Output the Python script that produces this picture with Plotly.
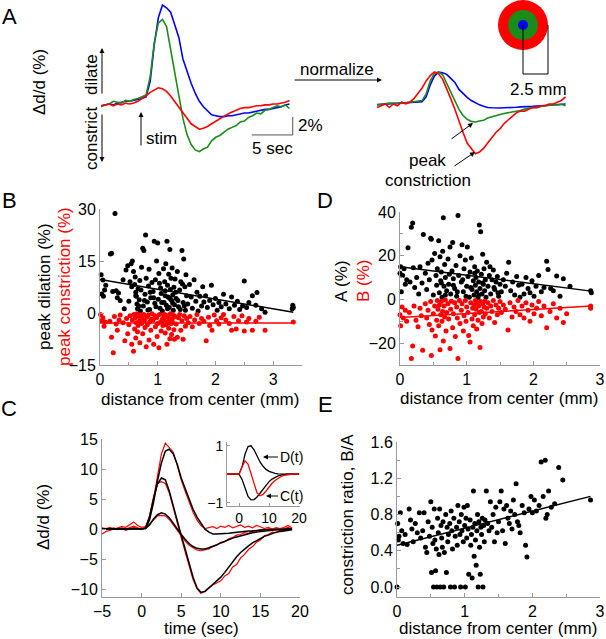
import numpy as np
import plotly.graph_objects as go

W, H = 606, 639
FONT = "Liberation Sans, Arial, sans-serif"
RED, GREEN, BLUE = "#ff0000", "#1a8c1a", "#0000ff"
AXC = "#9a9a9a"


def fx(p):
    return p / W


def fy(p):
    return 1 - p / H


# ---- A: raw responses (%), every 0.5 s from -5 to 18 s
a_time = np.arange(-5, 18.01, 0.5)
a_blue = [-0.2, -0.1, 0.0, -0.1, 0.1, 0.2, 0.3, 0.3, 0.4, 0.5,
          0.6, 0.8, 2.5, 6.6, 9.6, 11.0, 10.7, 10.2, 8.8, 7.4,
          5.0, 3.6, 2.3, 1.2, 0.3, -0.3, -0.8, -1.2, -1.3, -1.4,
          -1.4, -1.3, -1.3, -1.2, -1.1, -1.0, -1.0, -0.9, -0.8, -0.7,
          -0.6, -0.6, -0.5, -0.4, -0.3, -0.1, 0.0]
a_green = [-0.3, -0.1, 0.0, 0.3, 0.2, 0.1, 0.4, 0.3, 0.5, 0.6,
           0.8, 1.0, 3.0, 6.8, 9.0, 9.4, 8.6, 6.0, 3.5, 0.9,
           -1.6, -3.4, -4.5, -5.1, -5.3, -5.0, -4.8, -4.1, -3.7, -3.5,
           -3.1, -2.8, -2.6, -2.4, -2.0, -1.9, -1.5, -1.3, -1.0, -1.1,
           -0.7, -0.6, -0.4, -0.2, -0.3, -0.1, -0.5]
a_red = [-0.2, -0.1, 0.0, -0.2, 0.0, -0.1, 0.1, 0.0, 0.1, 0.3,
         0.6, 0.9, 1.3, 1.6, 1.8, 1.7, 1.4, 0.9, 0.3, -0.3,
         -1.0, -1.6, -2.2, -2.5, -2.8, -2.7, -2.5, -2.2, -1.9, -1.6,
         -1.4, -1.1, -0.9, -0.7, -0.5, -0.4, -0.4, -0.3, -0.2, -0.2,
         -0.1, -0.1, 0.0, 0.0, 0.1, 0.2, 0.4]

# ---- B: peak dilation / constriction vs distance
b_dil_x = [0.02, 0.03, 0.05, 0.06, 0.08, 0.10,
           0.18, 0.20, 0.22, 0.26, 0.28, 0.30, 0.32, 0.35,
           0.40, 0.42, 0.45, 0.48, 0.50, 0.52, 0.54, 0.55,
           0.56, 0.58, 0.60, 0.61, 0.62, 0.63, 0.64, 0.65, 0.66, 0.68, 0.69, 0.70,
           0.72, 0.74, 0.75, 0.76, 0.78, 0.79, 0.80, 0.82, 0.84, 0.85, 0.86, 0.88, 0.90,
           0.92, 0.94, 0.95, 0.96, 0.98, 1.00, 1.01, 1.02, 1.04, 1.05, 1.06, 1.08, 1.10,
           1.11, 1.12, 1.13, 1.14, 1.15, 1.16, 1.17, 1.18, 1.19, 1.20,
           1.21, 1.22, 1.23, 1.24, 1.25, 1.26, 1.27, 1.28, 1.29, 1.30,
           1.32, 1.34, 1.36, 1.38, 1.40, 1.42, 1.44, 1.45, 1.47, 1.48, 1.50,
           1.52, 1.55, 1.58, 1.60, 1.63, 1.66, 1.68, 1.70, 1.73, 1.76, 1.78, 1.80,
           1.83, 1.86, 1.90, 1.93, 1.96, 2.00, 2.03, 2.06, 2.10, 2.14, 2.18,
           2.24, 2.28, 2.33, 2.38, 2.42, 2.47, 2.50, 2.54, 2.58,
           2.64, 2.70, 2.72, 2.80, 2.86, 3.33, 3.34, 3.35,
           0.62, 0.67, 0.71, 0.77, 0.83, 0.87, 0.93, 0.97, 1.03, 1.07,
           1.13, 1.17, 1.21, 1.26, 1.31, 1.35, 1.39, 1.43, 1.46, 1.49]
b_dil_y = [11.0, 5.5, 9.5, 4.8, 6.6, 8.0,
           17.0, 17.2, 6.2, 28.7, 6.4, 4.4, 5.8, 3.6,
           9.6, 1.2, 12.4, 13.6, 3.4, 9.0, 14.2, 7.6,
           15.0, 12.0, 8.2, 10.4, 6.0, 4.8, 2.6, 1.2, 7.0, 3.8, 9.4, 0.6,
           13.2, 18.7, 2.0, 18.0, 5.4, 22.5, 10.0, 3.2, 7.8, 12.6, 1.0, 4.4, 8.8,
           6.2, 20.7, 2.8, 9.6, 15.0, 20.2, 4.0, 11.4, 1.4, 7.2, 5.6, 0.6, 12.8,
           3.0, 9.0, 6.4, 14.2, 2.2, 20.7, 8.0, 4.6, 11.2, 1.6,
           18.3, 6.8, 10.0, 3.6, 13.0, 5.2, 0.8, 7.4, 2.4, 9.8,
           4.2, 12.0, 1.8, 6.6, 9.0, 18.0, 3.0, 15.6, 7.6, 0.8, 5.0,
           2.6, 8.2, 4.6, 1.4, 9.6, 3.4, 6.0, 0.6, 4.8, 2.0, 7.6, 3.2,
           5.0, 1.6, 3.6, 8.0, 2.4, 4.2, 0.8, 3.0, 1.8, 5.4, 2.6,
           1.2, 4.6, 2.2, 3.4, 1.0, 2.0, 9.2, 1.6, 3.0,
           5.0, 2.2, 5.9, 1.2, 0.2, 1.2, 2.2, 1.6,
           5.0, 2.0, 6.6, 3.6, 0.9, 6.0, 4.4, 1.8, 8.6, 3.0,
           5.0, 1.2, 4.2, 2.8, 6.0, 3.6, 1.0, 8.4, 2.0, 11.0]
b_con_x = [0.01, 0.03, 0.05, 0.07, 0.09,
           0.17, 0.20, 0.23, 0.25, 0.28, 0.30, 0.33, 0.35,
           0.40, 0.43, 0.46, 0.48, 0.50, 0.52, 0.55,
           0.56, 0.58, 0.59, 0.60, 0.61, 0.62, 0.63, 0.64, 0.65, 0.66, 0.67, 0.68, 0.69, 0.70,
           0.72, 0.73, 0.74, 0.76, 0.77, 0.78, 0.80, 0.81, 0.82, 0.84, 0.85, 0.86, 0.88, 0.89, 0.90,
           0.92, 0.93, 0.95, 0.96, 0.98, 0.99, 1.00, 1.02, 1.03, 1.05, 1.06, 1.08, 1.09, 1.10,
           1.11, 1.12, 1.13, 1.14, 1.15, 1.16, 1.17, 1.18, 1.19, 1.20,
           1.21, 1.22, 1.23, 1.24, 1.25, 1.26, 1.27, 1.28, 1.29, 1.30,
           1.32, 1.34, 1.36, 1.38, 1.40, 1.42, 1.44, 1.46, 1.48, 1.50,
           1.53, 1.56, 1.60, 1.64, 1.68, 1.72, 1.76, 1.80,
           1.84, 1.88, 1.90, 1.94, 1.98, 2.02, 2.06, 2.10, 2.14, 2.18,
           2.24, 2.28, 2.32, 2.36, 2.40, 2.46, 2.50, 2.54, 2.58,
           2.64, 2.70, 2.76, 2.86, 3.35]
b_con_y = [-0.4, -2.2, -1.4, -3.8, -2.6,
           -2.4, -7.0, -11.5, -1.0, -3.2, -5.0, -2.0, -0.6,
           -2.8, -8.0, -1.6, -6.0, -3.4, -0.8, -9.0,
           -2.0, -11.0, -0.4, -4.6, -1.4, -7.2, -2.8, -0.2, -5.4, -3.6, -1.0, -2.4, -8.6, -0.6,
           -3.0, -1.6, -6.0, -0.4, -2.2, -4.2, -9.7, -1.2, -3.4, -0.6, -7.8, -2.6, -5.0, -1.8, -0.2,
           -2.0, -9.0, -0.8, -4.0, -1.4, -6.8, -3.0, -10.0, -0.4, -2.6, -5.2, -1.8, -3.6, -0.6,
           -2.2, -0.4, -5.8, -1.2, -3.4, -9.0, -0.8, -2.6, -4.4, -1.6,
           -7.4, -0.2, -3.0, -6.2, -1.8, -2.8, -0.6, -4.8, -7.6, -1.0,
           -3.2, -7.0, -1.4, -0.4, -5.0, -2.2, -7.6, -0.8, -3.8, -1.6,
           -2.8, -1.0, -4.0, -2.0, -0.4, -3.0, -1.6, -2.4,
           -8.0, -1.2, -3.6, -5.0, -0.6, -2.2, -3.2, -1.4, -0.4, -2.0,
           -3.0, -5.0, -1.0, -4.6, -2.2, -0.8, -5.2, -2.6, -1.6,
           -5.0, -2.4, -1.2, -5.0, -2.6]
b_fit_x = [0.0, 3.35]
b_fit_dil = [9.7, 0.2]
b_fit_con = [-2.9, -2.9]

# ---- D: A and B amplitudes vs distance
d_a_x = [0.00, 0.01, 0.02, 0.04, 0.06, 0.08, 0.10,
         0.12, 0.15, 0.17, 0.19, 0.20, 0.22, 0.25, 0.28, 0.30, 0.33, 0.35,
         0.38, 0.40, 0.42, 0.44, 0.46, 0.47, 0.48, 0.50, 0.52, 0.54, 0.55,
         0.56, 0.58, 0.59, 0.60, 0.61, 0.62, 0.63, 0.64, 0.65, 0.66, 0.67, 0.68, 0.70,
         0.72, 0.73, 0.75, 0.76, 0.78, 0.79, 0.80, 0.82, 0.84, 0.85, 0.87, 0.88, 0.90,
         0.92, 0.93, 0.95, 0.96, 0.98, 1.00, 1.01, 1.02, 1.04, 1.05, 1.07, 1.08, 1.10,
         1.11, 1.12, 1.13, 1.14, 1.15, 1.16, 1.17, 1.18, 1.19, 1.20,
         1.21, 1.22, 1.23, 1.24, 1.25, 1.26, 1.27, 1.28, 1.30,
         1.32, 1.34, 1.36, 1.38, 1.40, 1.42, 1.44, 1.46, 1.48, 1.50,
         1.52, 1.55, 1.58, 1.60, 1.63, 1.66, 1.69, 1.72, 1.75, 1.78, 1.80,
         1.83, 1.86, 1.89, 1.92, 1.95, 1.98, 2.01, 2.04, 2.08, 2.12, 2.16, 2.20,
         2.22, 2.26, 2.30, 2.35, 2.40, 2.45, 2.55, 2.86, 2.87,
         0.62, 0.68, 0.74, 0.80, 0.86, 0.94, 0.99, 1.06, 1.12, 1.18, 1.24, 1.29, 1.35, 1.41, 1.47]
d_a_y = [12.0, 15.0, 3.5, 11.0, 14.0, 7.0, 9.0,
         23.7, 8.0, 33.0, 35.0, 14.5, 5.5, 10.0, 2.5, 15.0, 7.5, 29.7,
         12.0, 4.5, 16.5, 9.0, 28.0, 27.5, 18.0, 2.0, 21.0, 11.0, 6.5,
         14.0, 26.8, 3.0, 19.5, 8.5, 12.5, 1.0, 22.0, 37.4, 6.0, 16.0, 10.0, 4.0,
         18.5, 7.0, 24.0, 2.5, 13.0, 26.0, 9.5, 5.0, 15.5, 1.5, 38.4, 11.0, 20.0,
         8.0, 25.0, 3.5, 14.0, 18.0, 6.0, 24.0, 10.5, 1.0, 12.5, 19.0, 4.5, 8.5,
         2.0, 15.0, 6.5, 10.0, 3.5, 13.0, 0.8, 8.0, 34.0, 5.0,
         31.0, 11.5, 2.5, 20.7, 7.0, 14.0, 4.0, 9.0, 17.0,
         6.0, 11.0, 2.5, 9.0, 13.5, 4.5, 8.0, 10.5, 1.5, 7.0,
         3.5, 9.0, 6.0, 12.0, 17.0, 4.0, 8.0, 2.0, 10.5, 6.5, 1.0,
         7.0, 2.5, 10.0, 5.0, 3.0, 8.5, 1.5, 6.0, 11.0, 3.5, 5.5, 17.5,
         13.7, 5.0, 4.0, 10.7, 1.4, 9.5, 6.0, 4.0, 3.0,
         7.5, 2.0, 11.5, 6.5, 3.5, 9.0, 1.5, 5.5, 12.0, 2.0, 7.5, 1.0, 15.0, 5.5, 3.0]
d_b_x = [0.00, 0.01, 0.03, 0.05, 0.08, 0.10,
         0.14, 0.17, 0.19, 0.21, 0.24, 0.27, 0.30, 0.32, 0.34,
         0.38, 0.40, 0.42, 0.44, 0.46, 0.47, 0.48, 0.50, 0.52, 0.53, 0.55,
         0.56, 0.57, 0.58, 0.59, 0.60, 0.61, 0.62, 0.63, 0.64, 0.65, 0.66, 0.67, 0.68, 0.69, 0.70,
         0.72, 0.73, 0.75, 0.76, 0.77, 0.79, 0.80, 0.82, 0.83, 0.85, 0.86, 0.87, 0.89, 0.90,
         0.92, 0.93, 0.95, 0.96, 0.98, 0.99, 1.00, 1.02, 1.03, 1.05, 1.06, 1.08, 1.09, 1.10,
         1.11, 1.12, 1.13, 1.14, 1.15, 1.16, 1.17, 1.18, 1.19, 1.20,
         1.21, 1.22, 1.23, 1.24, 1.25, 1.26, 1.27, 1.28, 1.30,
         1.32, 1.34, 1.36, 1.38, 1.40, 1.42, 1.44, 1.46, 1.48, 1.50,
         1.52, 1.55, 1.58, 1.62, 1.65, 1.68, 1.71, 1.74, 1.77, 1.80,
         1.83, 1.86, 1.89, 1.92, 1.95, 1.98, 2.01, 2.05, 2.08, 2.12, 2.16, 2.20,
         2.25, 2.30, 2.35, 2.40, 2.45, 2.50, 2.86, 2.86]
d_b_y = [-7.0, -12.0, -3.5, -8.5, -5.0, -10.0,
         -6.0, -27.0, -21.3, -3.0, -9.5, -12.5, -4.0, -7.5, -23.3,
         -2.0, -8.5, -5.0, -11.5, -1.0, -25.6, -14.0, -6.5, -3.0, -16.7, -9.5,
         -0.5, -4.5, -12.0, -2.5, -23.0, -7.0, -1.0, -10.0, -5.5, -19.0, -3.0, -8.0, -0.3, -14.5, -6.0,
         -2.0, -9.0, -22.5, -4.5, -0.8, -13.0, -6.5, -1.5, -17.0, -3.5, -8.5, -27.0, -0.5, -11.0,
         -5.0, -2.0, -14.5, -7.5, -0.5, -10.0, -3.5, -6.0, -16.5, -19.5, -1.5, -9.0, -4.0, -12.0,
         -2.5, -7.0, -0.5, -4.5, -13.5, -1.5, -9.5, -3.0, -6.0, -22.0,
         -1.0, -5.5, -11.0, -2.0, -8.0, -3.5, -0.8, -6.5, -4.0,
         -1.5, -8.5, -3.0, -5.5, -0.5, -10.5, -2.5, -7.0, -4.0, -1.0,
         -6.0, -2.5, -4.5, -14.0, -1.5, -8.0, -3.5, -5.5, -0.5, -7.0,
         -3.0, -8.5, -1.5, -5.0, -10.0, -2.5, -6.5, -4.0, -1.0, -7.5, -3.0, -13.0,
         -5.5, -2.0, -8.5, -4.0, -10.5, -6.5, -3.0, -4.0]
d_fit_x = [0.0, 2.87]
d_fit_a = [14.9, 3.8]
d_fit_b = [-8.3, -3.0]

# ---- C: example responses (red) and fits (black), every 0.5 s from -5 to 19 s
c_time = np.arange(-5, 19.01, 0.5)
c_data1 = [0.2, 0.1, 0.3, 0.0, 0.2, 0.4, 0.3, 0.8, 1.2, 0.6, 0.3,
           0.4, 1.8, 5.0, 9.0, 12.5, 14.3, 13.6, 12.8, 10.6, 8.2,
           6.3, 4.4, 2.8, 1.5, 0.6, 0.1, 0.2, 0.4, 0.1, 0.5,
           0.3, 0.6, 0.2, 0.4, 0.7, 0.3, 0.5, 0.2, 0.6, 0.4,
           0.1, 0.3, 0.0, 0.2, 0.1, 0.3, 0.6, 0.2]
c_data2 = [-0.8, -0.4, -0.2, 0.1, -0.1, 0.2, 0.0, 0.3, 0.5, 0.2, 0.0,
           0.3, 2.2, 5.3, 7.6, 7.9, 7.6, 6.0, 3.4, 1.0, -1.4,
           -3.8, -6.3, -8.4, -9.9, -10.7, -10.3, -9.7, -9.3, -8.9, -8.6,
           -7.8, -7.4, -6.3, -5.9, -4.8, -4.2, -3.4, -2.9, -2.2, -1.8,
           -1.1, -0.9, -0.5, -0.6, -0.2, -0.3, 0.2, -0.1]
c_data3 = [0.1, -0.1, 0.0, 0.2, -0.1, 0.1, -0.2, 0.1, 0.3, 0.1, -0.1,
           0.2, 0.8, 1.5, 2.2, 2.3, 2.2, 1.6, 0.7, -0.2, -1.2,
           -2.0, -2.7, -3.1, -3.5, -3.6, -3.4, -3.3, -2.9, -2.7, -2.2,
           -2.1, -1.6, -1.4, -1.0, -0.9, -0.6, -0.7, -0.3, -0.4, -0.1,
           -0.2, 0.1, 0.0, 0.2, 0.0, 0.1, 0.3, 0.0]
c_fit1 = [0, 0, 0, 0, 0, 0, 0, 0, 0, 0, 0,
          0.1, 1.5, 4.4, 8.0, 11.0, 13.0, 13.3, 12.5, 10.8, 8.5,
          6.8, 5.0, 3.3, 2.0, 0.9, 0.0, -0.5, -0.8, -0.8, -0.8,
          -0.8, -0.7, -0.6, -0.5, -0.5, -0.4, -0.3, -0.3, -0.2, -0.2,
          -0.1, -0.1, -0.1, 0, 0, 0, 0, 0]
c_fit2 = [0, 0, 0, 0, 0, 0, 0, 0, 0, 0, 0,
          0.2, 2.0, 5.0, 7.5, 8.5, 8.2, 6.3, 3.8, 1.2, -1.0,
          -3.3, -5.8, -8.0, -9.8, -10.5, -10.4, -9.8, -9.2, -8.6, -8.0,
          -7.2, -6.3, -5.4, -4.6, -3.9, -3.3, -2.8, -2.3, -1.9, -1.5,
          -1.2, -1.0, -0.7, -0.5, -0.4, -0.3, -0.2, -0.1]
c_fit3 = [0, 0, 0, 0, 0, 0, 0, 0, 0, 0, 0,
          0.1, 0.7, 1.7, 2.4, 2.7, 2.5, 1.9, 1.0, 0.0, -0.9,
          -1.7, -2.4, -2.9, -3.2, -3.3, -3.3, -3.1, -2.9, -2.6, -2.3,
          -2.0, -1.8, -1.5, -1.3, -1.1, -0.9, -0.8, -0.6, -0.5, -0.4,
          -0.3, -0.2, -0.2, -0.1, -0.1, 0, 0, 0]

# inset: basis functions, every 1 s from -4 to 20 s
k_time = np.arange(-4, 20.01, 1)
k_dil = [0, 0, 0, 0, 0, 0.25, 0.7, 0.97, 1.0, 0.86, 0.63, 0.43, 0.28,
         0.17, 0.1, 0.06, 0.03, 0.015, 0.005, 0, 0, 0, 0, 0, 0]
k_con = [0, 0, 0, 0, 0, -0.18, -0.52, -0.78, -0.9, -0.89, -0.8, -0.66, -0.51,
         -0.37, -0.26, -0.17, -0.11, -0.06, -0.03, -0.01, 0, 0, 0, 0, 0]
k_sum = [0, 0, 0, 0, 0, 0.25, 0.47, 0.36, 0.02, -0.38, -0.66, -0.76, -0.71,
         -0.59, -0.45, -0.32, -0.22, -0.14, -0.08, -0.04, -0.02, -0.01, 0, 0, 0]

# ---- E: constriction ratio B/A vs distance
e_x = [0.00, 0.01, 0.02, 0.03, 0.05, 0.07, 0.09,
       0.12, 0.15, 0.18, 0.20, 0.22, 0.24, 0.27, 0.30, 0.33, 0.35,
       0.38, 0.40, 0.42, 0.44, 0.46, 0.48, 0.50, 0.51, 0.52, 0.53, 0.54, 0.55,
       0.56, 0.57, 0.58, 0.59, 0.60, 0.61, 0.62, 0.63, 0.64, 0.65, 0.66, 0.67, 0.68, 0.69, 0.70,
       0.72, 0.73, 0.74, 0.75, 0.76, 0.78, 0.79, 0.80, 0.81, 0.82, 0.84, 0.85, 0.86, 0.88, 0.89, 0.90,
       0.92, 0.93, 0.94, 0.95, 0.96, 0.98, 0.99, 1.00, 1.01, 1.02, 1.03, 1.04, 1.05, 1.06, 1.08, 1.09, 1.10,
       1.11, 1.12, 1.13, 1.14, 1.15, 1.16, 1.17, 1.18, 1.19, 1.20,
       1.21, 1.22, 1.23, 1.24, 1.25, 1.26, 1.27, 1.28, 1.29, 1.30,
       1.32, 1.34, 1.36, 1.38, 1.40, 1.42, 1.44, 1.46, 1.48, 1.50,
       1.52, 1.54, 1.56, 1.58, 1.60, 1.62, 1.64, 1.66, 1.68, 1.70, 1.72, 1.74, 1.76, 1.78, 1.80,
       1.82, 1.85, 1.88, 1.90, 1.92, 1.95, 1.98, 2.00, 2.03, 2.06, 2.10, 2.13, 2.16, 2.19,
       2.20, 2.22, 2.24, 2.28, 2.33, 2.39, 2.45, 2.86]
e_y = [0.00, 0.70, 0.52, 0.56, 0.82, 0.62, 0.48,
       0.58, 0.47, 0.86, 0.74, 0.64, 0.50, 0.70, 0.60, 0.82, 0.54,
       0.62, 0.82, 0.44, 0.38, 0.72, 0.56, 0.94, 0.16, 0.66, 0.48, 0.00, 0.86,
       0.52, 0.18, 0.42, 0.00, 0.76, 0.60, 0.36, 0.86, 0.00, 0.68, 0.54, 0.44, 0.72, 0.00, 0.38,
       0.80, 0.16, 0.66, 0.50, 0.58, 0.70, 0.00, 0.84, 0.62, 0.42, 0.76, 0.00, 0.56, 0.66, 0.46, 0.90,
       0.72, 0.58, 0.00, 0.80, 0.62, 0.50, 0.88, 0.68, 0.00, 0.76, 0.54, 0.90, 0.64, 0.14, 0.74, 0.46, 0.58,
       0.10, 0.66, 1.06, 0.34, 0.70, 0.52, 0.24, 0.62, 0.80, 0.00,
       0.72, 0.44, 0.14, 0.66, 0.58, 0.76, 0.00, 0.68, 0.50, 0.74,
       1.06, 0.70, 0.62, 0.94, 0.66, 0.80, 0.50, 0.88, 0.60, 0.72,
       0.94, 1.06, 0.62, 0.86, 0.48, 0.90, 0.76, 0.70, 0.84, 0.64, 0.96, 0.80, 1.14, 0.72, 0.68,
       0.60, 0.90, 0.82, 0.46, 0.33, 0.86, 1.00, 0.82, 0.96, 0.84, 0.90, 1.38, 1.00, 1.40,
       0.76, 0.80, 1.06, 0.88, 0.92, 1.32, 1.18, 0.96]
e_fit_x = [0.0, 2.86]
e_fit_y = [0.46, 1.0]

fig = go.Figure()


def line(x, y, color, width, xa, ya):
    fig.add_trace(go.Scatter(x=x, y=y, mode="lines", line=dict(color=color, width=width),
                             xaxis=xa, yaxis=ya, cliponaxis=False, hoverinfo="skip"))


def dots(x, y, color, xa, ya):
    fig.add_trace(go.Scatter(x=x, y=y, mode="markers", marker=dict(color=color, size=5),
                             xaxis=xa, yaxis=ya, cliponaxis=False, hoverinfo="skip"))


# A, raw and normalized
for ys, col in [(a_blue, BLUE), (a_green, GREEN), (a_red, RED)]:
    line(a_time, ys, col, 1.6, "x", "y")
for ys, col in [(a_blue, BLUE), (a_green, GREEN), (a_red, RED)]:
    arr = np.array(ys)
    line(a_time, arr / arr.max(), col, 1.6, "x2", "y2")

# B
dots(b_dil_x, b_dil_y, "black", "x3", "y3")
dots(b_con_x, b_con_y, RED, "x3", "y3")
line(b_fit_x, b_fit_dil, "black", 1.5, "x3", "y3")
line(b_fit_x, b_fit_con, RED, 1.5, "x3", "y3")

# D
dots(d_a_x, d_a_y, "black", "x4", "y4")
dots(d_b_x, d_b_y, RED, "x4", "y4")
line(d_fit_x, d_fit_a, "black", 1.5, "x4", "y4")
line(d_fit_x, d_fit_b, RED, 1.5, "x4", "y4")

# C
for ys in [c_data1, c_data2, c_data3]:
    line(c_time, ys, RED, 1.2, "x5", "y5")
for ys in [c_fit1, c_fit2, c_fit3]:
    line(c_time, ys, "black", 1.5, "x5", "y5")
line(k_time, k_dil, "black", 1.3, "x6", "y6")
line(k_time, k_con, "black", 1.3, "x6", "y6")
line(k_time, k_sum, RED, 1.3, "x6", "y6")

# E
dots(e_x, e_y, "black", "x7", "y7")
line(e_fit_x, e_fit_y, "black", 1.5, "x7", "y7")


def axis(**kw):
    d = dict(showline=True, linecolor=AXC, linewidth=1, ticks="inside", ticklen=4,
             tickcolor=AXC, showgrid=False, zeroline=False, automargin=False,
             tickfont=dict(size=16, color="black", family=FONT))
    d.update(kw)
    return d


def hidden(**kw):
    d = dict(visible=False, automargin=False)
    d.update(kw)
    return d


def minor(step):
    return dict(dtick=step, tick0=0, ticks="inside", ticklen=3, tickcolor=AXC)


def txt(x, y, s, size=17, color="black", angle=0, xanchor="center"):
    return dict(x=fx(x), y=fy(y), xref="paper", yref="paper", text=s, showarrow=False,
                font=dict(size=size, color=color, family=FONT), textangle=angle,
                xanchor=xanchor, yanchor="middle")


def arrow(hx, hy, tx, ty, s="", size=14):
    return dict(x=fx(hx), y=fy(hy), xref="paper", yref="paper", ax=tx - hx, ay=ty - hy,
                axref="pixel", ayref="pixel", text=s, showarrow=True, arrowhead=2,
                arrowsize=1, arrowwidth=1, arrowcolor="black",
                font=dict(size=size, color="black", family=FONT))


annotations = [
    txt(10, 16, "A", 22), txt(9, 200, "B", 22), txt(325, 200, "D", 22),
    txt(9, 408, "C", 22), txt(325, 404, "E", 22),
    txt(40, 82, "Δd/d (%)", angle=-90),
    txt(91, 75, "dilate", angle=-90), txt(91, 138, "constrict", angle=-90),
    txt(144, 138, "stim", xanchor="left"),
    txt(296, 126, "2%", xanchor="left"), txt(272, 148, "5 sec"),
    txt(337, 69, "normalize"), txt(538, 89, "2.5 mm"),
    txt(427, 160, "peak"), txt(428, 180, "constriction"),
    arrow(102, 48, 102, 95), arrow(102, 162, 102, 113),
    arrow(141, 112, 141, 147), arrow(382, 80, 293, 80),
    arrow(473, 123, 450, 140), arrow(475, 152, 453, 167),
    txt(44, 287, "peak dilation (%)", angle=-90),
    txt(64, 287, "peak constriction (%)", color=RED, angle=-90),
    txt(200, 399, "distance from center (mm)"),
    txt(341, 281, "A (%)", angle=-90),
    txt(363, 281, "B (%)", color=RED, angle=-90),
    txt(499, 398, "distance from center (mm)"),
    txt(43, 517, "Δd/d (%)", angle=-90), txt(201, 628, "time (sec)"),
    arrow(263, 457, 291, 457, "D(t)"), arrow(266, 496, 291, 496, "C(t)"),
    txt(347, 515, "constriction ratio, B/A", angle=-90),
    txt(498, 628, "distance from center (mm)"),
]

shapes = [
    dict(type="line", xref="x", yref="y", x0=18.4, x1=18.4, y0=-1.44, y1=-3.44,
         line=dict(color="#555555", width=1)),
    dict(type="line", xref="x", yref="y", x0=13.4, x1=18.4, y0=-3.44, y1=-3.44,
         line=dict(color="#555555", width=1)),
]
for r, col in [(25, RED), (15, GREEN), (5, BLUE)]:
    shapes.append(dict(type="circle", xref="paper", yref="paper",
                       x0=fx(523 - r), x1=fx(523 + r), y0=fy(25 + r), y1=fy(25 - r),
                       fillcolor=col, line=dict(width=0)))
shapes.append(dict(type="path", xref="paper", yref="paper",
                   path=f"M {fx(523)} {fy(25)} L {fx(523)} {fy(74)} L {fx(548)} {fy(74)} L {fx(548)} {fy(25)}",
                   line=dict(color="black", width=1)))

fig.update_layout(
    width=W, height=H, margin=dict(l=0, r=0, t=0, b=0, pad=0, autoexpand=False),
    paper_bgcolor="white", plot_bgcolor="rgba(0,0,0,0)", showlegend=False,
    font=dict(family=FONT, color="black", size=16),
    xaxis=hidden(domain=[fx(101), fx(296)], range=[-5, 18.8], anchor="y"),
    yaxis=hidden(domain=[fy(165), fy(0)], range=[-6.78, 11.56], anchor="x"),
    xaxis2=hidden(domain=[fx(377), fx(568)], range=[-5, 18.3], anchor="y2"),
    yaxis2=hidden(domain=[fy(160), fy(40)], range=[-1.75, 2.0], anchor="x2"),
    xaxis3=axis(domain=[fx(100), fx(302)], range=[0, 3.5], tickvals=[0, 1, 2, 3],
                minor=minor(0.5), anchor="y3"),
    yaxis3=axis(domain=[fy(365), fy(209)], range=[-15, 30], tickvals=[-15, 0, 15, 30],
                anchor="x3"),
    xaxis4=axis(domain=[fx(400), fx(600)], range=[0, 3], tickvals=[0, 1, 2, 3],
                minor=minor(0.5), anchor="y4"),
    yaxis4=axis(domain=[fy(365), fy(212)], range=[-30, 40], tickvals=[-20, 0, 20, 40],
                minor=minor(10), anchor="x4"),
    xaxis5=axis(domain=[fx(102), fx(300)], range=[-5, 20], tickvals=[-5, 0, 5, 10, 15, 20],
                anchor="y5"),
    yaxis5=axis(domain=[fy(597), fy(439)], range=[-11.3, 15],
                tickvals=[-10, -5, 0, 5, 10, 15], anchor="x5"),
    xaxis6=axis(domain=[fx(227), fx(300)], range=[-4, 20.3], tickvals=[0, 10, 20],
                tickfont=dict(size=14, color="black", family=FONT), ticklen=3, anchor="y6"),
    yaxis6=axis(domain=[fy(505.5), fy(441.5)], range=[-1.1, 1.15], tickvals=[-1, 1],
                tickfont=dict(size=14, color="black", family=FONT), ticklen=3, anchor="x6"),
    xaxis7=axis(domain=[fx(397), fx(600)], range=[0, 3], tickvals=[0, 1, 2, 3],
                minor=minor(0.5), anchor="y7"),
    yaxis7=axis(domain=[fy(597), fy(442)], range=[-0.11, 1.6],
                tickvals=[0, 0.4, 0.8, 1.2, 1.6], tickformat=".1f", minor=minor(0.2),
                anchor="x7"),
    annotations=annotations,
    shapes=shapes,
)

# the page's default 8px body margin would push the 606x639 figure off the window
fig.write_html("out.html", config={"displayModeBar": False},
               post_script="document.body.style.margin='0';")
